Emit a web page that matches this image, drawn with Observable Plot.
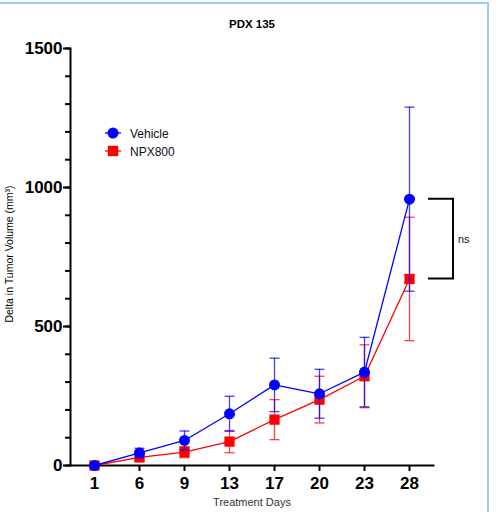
<!DOCTYPE html>
<html><head><meta charset="utf-8">
<script src="https://cdn.jsdelivr.net/npm/d3@7"></script>
<script src="https://cdn.jsdelivr.net/npm/@observablehq/plot@0.6"></script>
<style>
html,body{margin:0;padding:0;background:#fff;}
#wrap{position:relative;width:502px;height:512px;overflow:hidden;}
#border{position:absolute;left:0;top:2px;width:487px;height:520px;border-top:2px solid #9dccfb;border-right:2px solid #9dccfb;}
svg{font-family:"Liberation Sans",Arial,sans-serif;}
</style></head>
<body><div id="wrap"><div id="border"></div></div>
<script>
const days = [1, 6, 9, 13, 17, 20, 23, 28];
const vehicleMean = [0, 45, 90, 186, 290, 258, 336, 958];
const vehicleErr  = [3, 17, 34, 63, 96, 88, 125, 331];
const npxMean = [0, 29, 48, 86, 165, 237, 321, 671];
const npxErr  = [3, 12, 20, 40, 72, 84, 113, 222];
const yMajorTicks = [0, 500, 1000, 1500];
const yMinorTicks = d3.range(0, 1501, 100);
const seriesNames = ["Vehicle", "NPX800"];
const seriesColors = ["#0000ff", "#ff0000"];
const title = "PDX 135";
const xLabel = "Treatment Days";
const yLabel = "Delta in Tumor Volume (mm³)";
const sigLabel = "ns";

const rows = [];
days.forEach((d, i) => {
  rows.push({day: d, series: seriesNames[0], mean: vehicleMean[i], lo: vehicleMean[i] - vehicleErr[i], hi: vehicleMean[i] + vehicleErr[i]});
  rows.push({day: d, series: seriesNames[1], mean: npxMean[i], lo: Math.max(0, npxMean[i] - npxErr[i]), hi: npxMean[i] + npxErr[i]});
});
const veh = rows.filter(r => r.series === seriesNames[0]);
const npx = rows.filter(r => r.series === seriesNames[1]);

const cap = {draw(ctx) { ctx.moveTo(-5, 0); ctx.lineTo(5, 0); }};

function seriesMarks(data, color, symbol, r) {
  return [
    Plot.ruleX(data, {x: "day", y1: "lo", y2: "hi", stroke: color, strokeWidth: 1.3, strokeOpacity: 0.75}),
    Plot.dot(data, {x: "day", y: "hi", symbol: cap, stroke: color, strokeWidth: 1.3, strokeOpacity: 0.75, fill: "none"}),
    Plot.dot(data, {x: "day", y: "lo", symbol: cap, stroke: color, strokeWidth: 1.3, strokeOpacity: 0.75, fill: "none"}),
    Plot.line(data, {x: "day", y: "mean", stroke: color, strokeWidth: 1.3}),
    Plot.dot(data, {x: "day", y: "mean", symbol, r, fill: color, stroke: "none"})
  ];
}

const plot = Plot.plot({
  width: 502, height: 512,
  marginLeft: 70, marginRight: 69, marginTop: 48, marginBottom: 47,
  style: {fontFamily: "'Liberation Sans', Arial, sans-serif", background: "transparent", overflow: "visible"},
  x: {type: "point", domain: days, padding: 0.5},
  y: {domain: [0, 1500]},
  marks: [
    Plot.axisY({ticks: yMinorTicks, tickSize: 5, text: null, strokeWidth: 2, label: null}),
    Plot.axisY({ticks: yMajorTicks, tickSize: 7, tickPadding: 1, tickFormat: d => String(d), strokeWidth: 2, fontSize: 17, fontWeight: "bold", fill: "#000", label: null}),
    Plot.axisX({tickSize: 6, tickPadding: 5, strokeWidth: 2, fontSize: 17, fontWeight: "bold", fill: "#000", label: null}),
    Plot.frame({anchor: "left", strokeWidth: 2}),
    Plot.frame({anchor: "bottom", strokeWidth: 2}),
    ...seriesMarks(npx, seriesColors[1], "square", 5.8),
    ...seriesMarks(veh, seriesColors[0], "circle", 5.5),
    Plot.text([title], {text: d => d, frameAnchor: "top", dy: -29, fontSize: 11.5, fontWeight: "bold", fill: "#000"}),
    Plot.text([xLabel], {text: d => d, frameAnchor: "bottom", dy: 40, fontSize: 11, fill: "#333"}),
    Plot.text([yLabel], {text: d => d, frameAnchor: "left", textAnchor: "middle", rotate: -90, dx: -61, dy: -3, fontSize: 10.5, fill: "#000"})
  ]
});
document.getElementById("wrap").appendChild(plot);

// significance bracket and legend, positioned via the plot's scales
const svg = d3.select(plot);
const xs = plot.scale("x"), ys = plot.scale("y");
const x28 = xs.apply(days[days.length - 1]);
const yA = ys.apply(vehicleMean[vehicleMean.length - 1]);
const yB = ys.apply(npxMean[npxMean.length - 1]);
svg.append("path")
  .attr("d", `M${x28 + 19},${yA}H${x28 + 44}V${yB}H${x28 + 19}`)
  .attr("fill", "none").attr("stroke", "#000").attr("stroke-width", 2);
svg.append("text").attr("x", x28 + 49).attr("y", (yA + yB) / 2 + 4).attr("text-anchor", "start")
  .attr("font-size", 11).attr("fill", "#222").text(sigLabel);

const lg = svg.append("g").attr("text-anchor", "start");
const lx = 113, ly = [133, 151];
seriesNames.forEach((name, i) => {
  lg.append("line").attr("x1", lx - 8).attr("x2", lx + 8).attr("y1", ly[i]).attr("y2", ly[i])
    .attr("stroke", seriesColors[i]).attr("stroke-width", 1.3);
  if (i === 0) lg.append("circle").attr("cx", lx).attr("cy", ly[i]).attr("r", 5.5).attr("fill", seriesColors[i]);
  else lg.append("rect").attr("x", lx - 5.2).attr("y", ly[i] - 5.2).attr("width", 10.4).attr("height", 10.4).attr("fill", seriesColors[i]);
  lg.append("text").attr("x", lx + 17).attr("y", ly[i] + 4.5).attr("font-size", 12).attr("fill", "#111").text(name);
});
</script></body></html>
